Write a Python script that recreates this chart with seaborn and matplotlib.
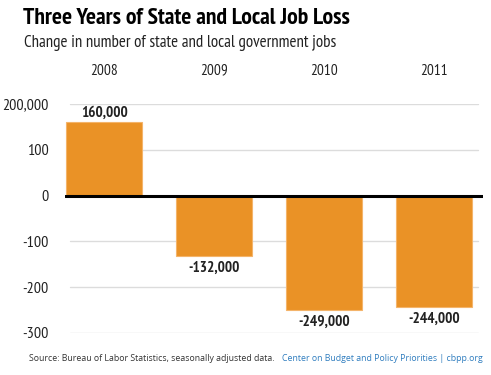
import pandas as pd
import matplotlib
matplotlib.use("Agg")
import matplotlib.pyplot as plt
import seaborn as sns

years = ["2008", "2009", "2010", "2011"]
job_change = [160000, -132000, -249000, -244000]
value_labels = ["160,000", "-132,000", "-249,000", "-244,000"]
y_ticks = [200000, 100000, 0, -100000, -200000, -300000]
y_tick_labels = ["200,000", "100", "0", "-100", "-200", "-300"]

sns.set_style("white")
plt.rcParams["font.family"] = ["PT Sans Narrow", "DejaVu Sans"]

orange = "#EA9226"

df = pd.DataFrame({"year": years, "change": job_change})

fig = plt.figure(figsize=(4.91, 3.75), dpi=100)
ax = fig.add_axes([65 / 491, 42 / 375, (483 - 65) / 491, (333 - 104) / 375])

sns.barplot(data=df, x="year", y="change", color=orange, width=0.69,
            saturation=1, edgecolor="#F4B46A", linewidth=0.8, ax=ax, zorder=2)

ax.set_ylim(-300000, 200000)
ax.set_xlim(-0.355, 3.445)
ax.set_yticks(y_ticks)
ax.set_yticklabels(y_tick_labels, fontsize=11.5, color="#222222")
ax.tick_params(axis="y", length=0, pad=12)
ax.xaxis.tick_top()
ax.tick_params(axis="x", length=0, pad=19, labelsize=11, labelcolor="#222222")
ax.set_xlabel("")
ax.set_ylabel("")
for s in ax.spines.values():
    s.set_visible(False)

for t in y_ticks:
    if t != 0:
        ax.axhline(t, color="#dcdcdc", lw=1, zorder=0, xmin=0.012, xmax=0.988)
ax.axhline(0, color="black", lw=2.2, zorder=3)

for i, (v, lab) in enumerate(zip(job_change, value_labels)):
    up = v > 0
    ax.annotate(lab, (i, v), xytext=(0, 2 if up else -3.5), textcoords="offset points",
                ha="center", va="bottom" if up else "top",
                fontsize=11, fontweight="bold", color="#222222", annotation_clip=False)

fig.text(23 / 491, 1 - 24 / 375, "Three Years of State and Local Job Loss",
         fontsize=17, fontweight="bold", color="black", va="baseline")
fig.text(24 / 491, 1 - 47 / 375, "Change in number of state and local government jobs",
         fontsize=12.2, color="#222222", va="baseline")
fig.text(29 / 491, 1 - 361 / 375, "Source: Bureau of Labor Statistics, seasonally adjusted data.",
         fontsize=6.3, color="#333333", va="baseline", family=["Open Sans", "DejaVu Sans"])
fig.text(282 / 491, 1 - 361 / 375, "Center on Budget and Policy Priorities | cbpp.org",
         fontsize=6.3, color="#2f7dbf", va="baseline", family=["Open Sans", "DejaVu Sans"])

fig.savefig("out.png", dpi=100, facecolor="white")
